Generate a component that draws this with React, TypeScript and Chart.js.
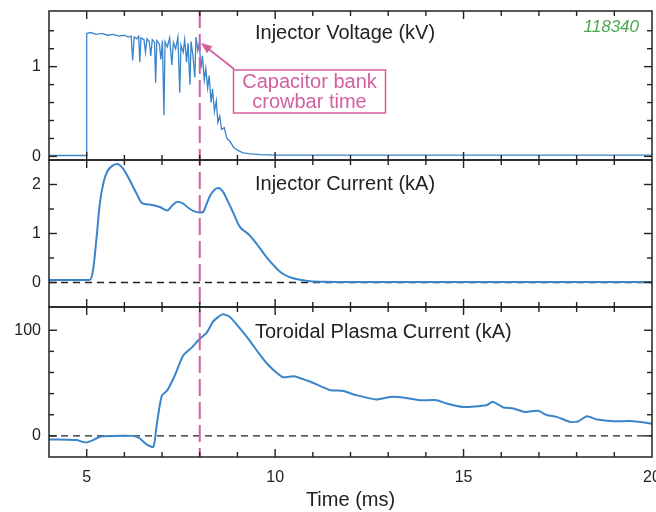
import React, { useEffect, useRef } from 'react';
import { Chart, registerables } from 'chart.js';

Chart.register(...registerables);

const FONT = '"Liberation Sans", Arial, Helvetica, sans-serif';

// ---- shared time axis ----
const X_RANGE = [4, 20];
const X_LABEL_TICKS = [5, 10, 15, 20];
const X_MINOR_TICKS = [5, 6, 7, 8, 9, 10, 11, 12, 13, 14, 15, 16, 17, 18, 19];
const CROWBAR_TIME = 8;

// ---- panel 1: injector voltage (kV) ----
const VOLT_RANGE = [-0.04, 1.62];
const VOLT_LABEL_TICKS = [0, 1];
const VOLT_MINOR_TICKS = [0.2, 0.4, 0.6, 0.8, 1.2, 1.4];
const VOLT_TIME = [
  4.0, 4.5, 4.99, 5.0, 5.1, 5.25, 5.4, 5.55, 5.7, 5.85, 6.0, 6.1, 6.18, 6.22, 6.26, 6.33, 6.38, 6.41,
  6.44, 6.52, 6.56, 6.6, 6.66, 6.7, 6.74, 6.8, 6.83, 6.86, 6.93, 6.97, 7.01, 7.05, 7.08, 7.14, 7.2,
  7.26, 7.3, 7.36, 7.42, 7.47, 7.5, 7.56, 7.6, 7.65, 7.69, 7.74, 7.77, 7.82, 7.87, 7.9, 7.95, 7.99,
  8.03, 8.07, 8.12, 8.16, 8.21, 8.25, 8.3, 8.34, 8.39, 8.44, 8.48, 8.53, 8.58, 8.65, 8.72, 8.8, 8.9,
  9.0, 9.15, 9.3, 9.6, 10.0, 12.0, 14.0, 16.0, 18.0, 20.0,
];
const VOLT_KV = [
  0.01, 0.01, 0.01, 1.37, 1.38, 1.36, 1.37, 1.35, 1.36, 1.34, 1.35, 1.33, 1.34, 1.07, 1.33, 1.31, 1.34, 1.05,
  1.32, 1.30, 1.16, 1.31, 1.28, 1.12, 1.30, 1.27, 0.82, 1.29, 1.25, 1.08, 1.29, 0.46, 1.28, 1.22, 1.32,
  1.02, 1.27, 1.20, 1.33, 0.71, 1.24, 1.16, 1.30, 1.05, 1.26, 0.80, 1.28, 1.12, 0.88, 1.33, 1.18, 1.27,
  0.98, 1.12, 0.85, 0.98, 0.76, 0.90, 0.60, 0.75, 0.50, 0.62, 0.38, 0.45, 0.30, 0.32, 0.20, 0.17, 0.10,
  0.07, 0.04, 0.03, 0.02, 0.015, 0.015, 0.015, 0.015, 0.015, 0.015,
];

// ---- panel 2: injector current (kA) ----
const INJ_RANGE = [-0.5, 2.5];
const INJ_LABEL_TICKS = [0, 1, 2];
const INJ_MINOR_TICKS = [0.5, 1.5];
const INJ_TIME = [
  4.0, 5.08, 5.17, 5.26, 5.35, 5.45, 5.55, 5.7, 5.81, 5.96, 6.14, 6.32, 6.47, 6.67, 6.94, 7.14, 7.27,
  7.41, 7.54, 7.74, 7.98, 8.09, 8.18, 8.28, 8.4, 8.49, 8.62, 8.75, 8.89, 9.06, 9.3, 9.5, 9.77, 9.95,
  10.13, 10.35, 10.7, 11.0, 12.0, 20.0,
];
const INJ_KA = [
  0.05, 0.05, 0.26, 0.9, 1.62, 2.05, 2.27, 2.39, 2.42, 2.33, 2.09, 1.82, 1.62, 1.59, 1.54, 1.47, 1.57,
  1.65, 1.62, 1.5, 1.43, 1.44, 1.6, 1.78, 1.9, 1.93, 1.85, 1.65, 1.42, 1.14, 0.98, 0.8, 0.52, 0.36,
  0.22, 0.12, 0.05, 0.02, 0.01, 0.01,
];

// ---- panel 3: toroidal plasma current (kA) ----
const TOR_RANGE = [-20, 122];
const TOR_LABEL_TICKS = [0, 100];
const TOR_MINOR_TICKS = [20, 40, 60, 80];
const TOR_TIME = [
  4.0, 4.5, 4.73, 4.97, 5.17, 5.3, 5.43, 6.23, 6.41, 6.59, 6.77, 6.85, 6.92, 7.0, 7.14, 7.34, 7.56,
  7.8, 8.0, 8.18, 8.36, 8.6, 8.8, 9.06, 9.33, 9.55, 9.77, 10.0, 10.21, 10.5, 10.95, 11.45, 11.81,
  12.16, 12.69, 13.05, 13.4, 13.84, 14.29, 14.55, 14.99, 15.61, 15.77, 16.06, 16.32, 16.63, 16.98,
  17.21, 17.47, 17.83, 18.05, 18.27, 18.54, 18.98, 19.51, 20.0,
];
const TOR_KA = [
  -3.4, -3.6, -4, -6.3, -4, -1.5, -0.3, 0, -2.5, -8, -10.4, 8, 25, 38.5, 43.2, 57.4, 76,
  84, 92, 97.5, 108.5, 115, 112.6, 102, 90, 79, 69, 61, 55.5, 56.5, 51, 43.5, 42.4,
  38.5, 34.4, 36.9, 36.3, 33.8, 33.8, 30.6, 27.4, 29, 32.2, 26.9, 25.9, 22.7, 23.7,
  19.6, 18, 13.2, 13.9, 18.6, 15.5, 13.9, 13.9, 11.7,
];

const BLUE = '#3a84ca';
const PINK = '#d3609f';
const INK = '#222222';
const GREEN = '#4aa84e';

const toXY = (xs: number[], ys: number[]) => xs.map((x, i) => ({ x, y: ys[i] }));

const PANELS = [
  { id: 'yV', labels: VOLT_LABEL_TICKS, minor: VOLT_MINOR_TICKS, zeroLine: false },
  { id: 'yI', labels: INJ_LABEL_TICKS, minor: INJ_MINOR_TICKS, zeroLine: true },
  { id: 'yP', labels: TOR_LABEL_TICKS, minor: TOR_MINOR_TICKS, zeroLine: true },
];

function seg(ctx: CanvasRenderingContext2D, x0: number, y0: number, x1: number, y1: number) {
  ctx.beginPath();
  ctx.moveTo(x0, y0);
  ctx.lineTo(x1, y1);
  ctx.stroke();
}

const framePlugin = {
  id: 'framePlugin',
  beforeDatasetsDraw(chart: any) {
    const { ctx, chartArea } = chart;
    ctx.save();
    ctx.strokeStyle = INK;
    ctx.lineWidth = 1.3;
    ctx.setLineDash([7, 5]);
    for (const p of PANELS) {
      if (!p.zeroLine) continue;
      const y = chart.scales[p.id].getPixelForValue(0);
      seg(ctx, chartArea.left, y, chartArea.right, y);
    }
    ctx.restore();
  },
  afterDatasetsDraw(chart: any) {
    const { ctx, chartArea } = chart;
    const xs = chart.scales.x;
    const L = chartArea.left;
    const R = chartArea.right;

    // crowbar time marker
    ctx.save();
    ctx.strokeStyle = PINK;
    ctx.lineWidth = 2;
    ctx.setLineDash([17, 6]);
    const xc = xs.getPixelForValue(CROWBAR_TIME);
    seg(ctx, xc, chartArea.top, xc, chartArea.bottom);
    ctx.restore();

    // frames and inward ticks
    ctx.save();
    ctx.strokeStyle = INK;
    ctx.lineWidth = 1.5;
    for (const p of PANELS) {
      const s = chart.scales[p.id];
      const T = s.top;
      const B = s.bottom;
      ctx.strokeRect(L, T, R - L, B - T);
      ctx.lineWidth = 1.4;
      for (const t of X_MINOR_TICKS) {
        const len = X_LABEL_TICKS.includes(t) ? 8 : 5;
        const x = xs.getPixelForValue(t);
        seg(ctx, x, T, x, T + len);
        seg(ctx, x, B, x, B - len);
      }
      const yt = [...p.labels.map((v) => [v, 8]), ...p.minor.map((v) => [v, 5])];
      for (const [v, len] of yt) {
        const y = s.getPixelForValue(v);
        seg(ctx, L, y, L + len, y);
        seg(ctx, R, y, R - len, y);
      }
      ctx.lineWidth = 1.5;
    }
    ctx.restore();

    // panel titles
    ctx.save();
    ctx.fillStyle = INK;
    ctx.font = `20px ${FONT}`;
    ctx.textAlign = 'left';
    ctx.textBaseline = 'alphabetic';
    ctx.fillText('Injector Voltage (kV)', 255, 38.5);
    ctx.fillText('Injector Current (kA)', 255, 189.5);
    ctx.fillText('Toroidal Plasma Current (kA)', 255, 338);

    // shot number
    ctx.fillStyle = GREEN;
    ctx.font = `italic 17px ${FONT}`;
    ctx.textAlign = 'right';
    ctx.fillText('118340', 639, 32);

    // annotation box
    ctx.strokeStyle = PINK;
    ctx.lineWidth = 1.5;
    ctx.strokeRect(233.5, 70, 152, 43);
    ctx.fillStyle = PINK;
    ctx.font = `20px ${FONT}`;
    ctx.textAlign = 'center';
    ctx.fillText('Capacitor bank', 309.5, 87.5);
    ctx.fillText('crowbar time', 309.5, 107.5);

    // arrow
    const x0 = 234, y0 = 69, x1 = 201, y1 = 43;
    ctx.lineWidth = 1.8;
    seg(ctx, x0, y0, x1 + 6, y1 + 4.7);
    const ang = Math.atan2(y1 - y0, x1 - x0);
    const hl = 11, hw = 4.5;
    ctx.beginPath();
    ctx.moveTo(x1, y1);
    ctx.lineTo(x1 - hl * Math.cos(ang) + hw * Math.sin(ang), y1 - hl * Math.sin(ang) - hw * Math.cos(ang));
    ctx.lineTo(x1 - hl * Math.cos(ang) - hw * Math.sin(ang), y1 - hl * Math.sin(ang) + hw * Math.cos(ang));
    ctx.closePath();
    ctx.fill();
    ctx.restore();
  },
};

function fixY(scale: any) {
  scale.width = 49;
  scale.paddingTop = 0;
  scale.paddingBottom = 0;
}

function yScale(range: number[], labels: number[], weight: number, stackWeight: number) {
  return {
    type: 'linear',
    position: 'left',
    stack: 'panels',
    stackWeight,
    weight,
    min: range[0],
    max: range[1],
    grid: { display: false, drawTicks: false, tickLength: 0 },
    border: { display: false },
    afterBuildTicks: (s: any) => {
      s.ticks = labels.map((v) => ({ value: v }));
    },
    afterFit: fixY,
    ticks: {
      padding: 8,
      color: INK,
      font: { family: FONT, size: 16 },
      callback: (v: any) => String(v),
    },
  };
}

export default function App() {
  const ref = useRef<HTMLCanvasElement | null>(null);

  useEffect(() => {
    if (!ref.current) return;
    const chart = new Chart(ref.current, {
      type: 'line',
      data: {
        datasets: [
          {
            label: 'Injector Voltage',
            data: toXY(VOLT_TIME, VOLT_KV),
            yAxisID: 'yV',
            borderColor: BLUE,
            borderWidth: 1.3,
            pointRadius: 0,
            tension: 0,
          },
          {
            label: 'Injector Current',
            data: toXY(INJ_TIME, INJ_KA),
            yAxisID: 'yI',
            borderColor: BLUE,
            borderWidth: 2,
            pointRadius: 0,
            cubicInterpolationMode: 'monotone',
          },
          {
            label: 'Toroidal Plasma Current',
            data: toXY(TOR_TIME, TOR_KA),
            yAxisID: 'yP',
            borderColor: BLUE,
            borderWidth: 2,
            pointRadius: 0,
            tension: 0.2,
          },
        ],
      } as any,
      options: {
        responsive: false,
        animation: false,
        events: [],
        layout: { padding: { left: 0, right: 4, top: 11, bottom: 0 } },
        plugins: { legend: { display: false }, tooltip: { enabled: false } },
        scales: {
          x: {
            type: 'linear',
            position: 'bottom',
            min: X_RANGE[0],
            max: X_RANGE[1],
            grid: { display: false, drawTicks: false, tickLength: 0 },
            border: { display: false },
            afterBuildTicks: (s: any) => {
              s.ticks = X_LABEL_TICKS.map((v) => ({ value: v }));
            },
            afterFit: (s: any) => {
              s.height = 55;
              s.paddingLeft = 0;
              s.paddingRight = 0;
            },
            ticks: {
              padding: 11,
              maxRotation: 0,
              color: INK,
              font: { family: FONT, size: 16 },
              callback: (v: any) => String(v),
            },
            title: {
              display: true,
              text: 'Time (ms)',
              color: INK,
              font: { family: FONT, size: 20 },
              padding: { top: 0, bottom: 0 },
            },
          },
          yP: yScale(TOR_RANGE, TOR_LABEL_TICKS, 1, 150),
          yI: yScale(INJ_RANGE, INJ_LABEL_TICKS, 2, 147),
          yV: yScale(VOLT_RANGE, VOLT_LABEL_TICKS, 3, 149),
        },
      } as any,
      plugins: [framePlugin],
    });
    return () => chart.destroy();
  }, []);

  return (
    <div style={{ position: 'fixed', left: 0, top: 0, width: 656, height: 512, background: '#fff' }}>
      <canvas ref={ref} width={656} height={512} />
    </div>
  );
}
